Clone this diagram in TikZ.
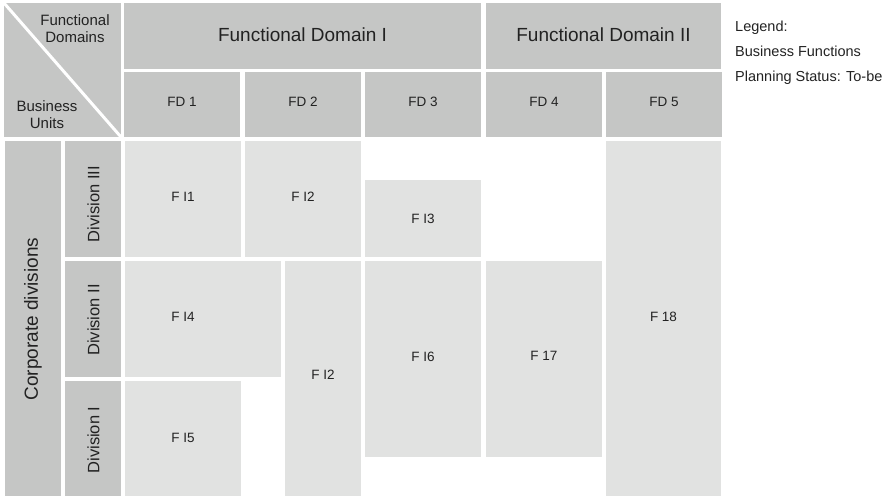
\documentclass[tikz,border=0pt]{standalone}
\usepackage{fontspec}
\setmainfont{Liberation Sans}

\definecolor{headgray}{RGB}{197,198,197}
\definecolor{cellgray}{RGB}{225,226,225}
\definecolor{inkgray}{RGB}{34,34,34}

\tikzset{
  head/.style={fill=headgray},
  cell/.style={fill=cellgray},
  lbl/.style={text=inkgray, inner sep=0pt, font=\fontsize{13.5}{16}\selectfont},
  biglbl/.style={lbl, font=\fontsize{19}{23}\selectfont},
  cornerlbl/.style={lbl, align=center, font=\fontsize{15}{17}\selectfont},
  divlbl/.style={lbl, rotate=90, font=\fontsize{16.5}{19}\selectfont},
  legendlbl/.style={lbl, anchor=base west, font=\fontsize{14.5}{17}\selectfont}
}

\begin{document}
\begin{tikzpicture}[x=1pt,y=-1pt]
\useasboundingbox (0,0) rectangle (889,496);

% Corner box with the diagonal split
\fill[head] (4,3) rectangle (121,137);
\draw[white, line width=3pt] (4,3) -- (121,137);
\node[cornerlbl] (fdoms) at (75,29) {Functional\\Domains};
\node[cornerlbl] (bunits) at (47,115) {Business\\Units};

% Functional domains
\fill[head] (124,3) rectangle (481,69);
\node[biglbl] (dom1) at (302.5,35) {Functional Domain I};
\fill[head] (486,3) rectangle (721,69);
\node[biglbl] (dom2) at (603.5,35) {Functional Domain II};

% Domain columns FD 1 .. FD 5
\foreach \l/\n in {124/1,245/2,365/3,486/4,606/5} {
  \fill[head] (\l,72) rectangle ++(116,65);
  \node[lbl] (fd\n) at (\l+58,102) {FD \n};
}

% Business units
\fill[head] (5,141) rectangle (61,496);
\node[divlbl, font=\fontsize{19}{23}\selectfont] (corp) at (33,319) {Corporate divisions};
\fill[head] (65,141) rectangle (121,257);
\node[divlbl] (div3) at (93.5,204) {Division III};
\fill[head] (65,261) rectangle (121,377);
\node[divlbl] (div2) at (93.5,320) {Division II};
\fill[head] (65,381) rectangle (121,496);
\node[divlbl] (div1) at (93.5,440) {Division I};

% Business functions
\fill[cell] (125,141) rectangle (241,257);
\node[lbl] (fi1) at (183,197) {F I1};
\fill[cell] (245,141) rectangle (361,257);
\node[lbl] (fi2a) at (303,197) {F I2};
\fill[cell] (365,180) rectangle (481,257);
\node[lbl] (fi3) at (423,219) {F I3};
\fill[cell] (125,261) rectangle (281,377);
\node[lbl] (fi4) at (183,317) {F I4};
\fill[cell] (285,261) rectangle (361,496);
\node[lbl] (fi2b) at (323,375) {F I2};
\fill[cell] (125,381) rectangle (241,496);
\node[lbl] (fi5) at (183,438) {F I5};
\fill[cell] (365,261) rectangle (481,457);
\node[lbl] (fi6) at (423,357) {F I6};
\fill[cell] (486,261) rectangle (602,457);
\node[lbl] (f17) at (544,356) {F 17};
\fill[cell] (606,141) rectangle (721,496);
\node[lbl] (f18) at (663.5,317) {F 18};

% Legend
\node[legendlbl] (leg) at (735,31) {Legend:};
\node[legendlbl] (leg1) at (735,56) {Business Functions};
\node[legendlbl] (leg2) at (735,81) {Planning Status: To-be};

\end{tikzpicture}
\end{document}
